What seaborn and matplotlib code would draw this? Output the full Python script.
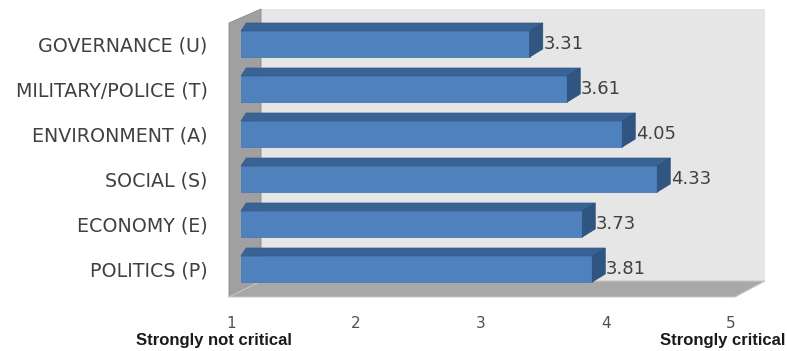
import matplotlib
matplotlib.use("Agg")
import matplotlib.pyplot as plt
import matplotlib.transforms as mtransforms
from matplotlib.patches import Polygon
import seaborn as sns
import pandas as pd

categories = ["GOVERNANCE (U)", "MILITARY/POLICE (T)", "ENVIRONMENT (A)",
              "SOCIAL (S)", "ECONOMY (E)", "POLITICS (P)"]
values = [3.31, 3.61, 4.05, 4.33, 3.73, 3.81]
tick_values = [1, 2, 3, 4, 5]
tick_labels = ["1", "2", "3", "4", "5"]
low_label = "Strongly not critical"
high_label = "Strongly critical"

sns.set_theme(style="white")
plt.rcParams["font.family"] = ["DejaVu Sans"]

W, H = 787, 351
fig = plt.figure(figsize=(W / 100, H / 100), dpi=100)
# x: value 1 at px 241, 125 px per unit; y: category pitch 45 px, first at px 44
X0PX, XSC, Y0PX, YSC = 241, 125.0, 44, 45.0
top_px, bot_px = 9, 297
ax = fig.add_axes([X0PX / W, (H - bot_px) / H, 4 * XSC / W, (bot_px - top_px) / H])

def px(xp, yp):
    return (1 + (xp - X0PX) / XSC, (yp - Y0PX) / YSC)

df = pd.DataFrame({"category": categories, "value": values})
sns.barplot(data=df, x="value", y="category", orient="h", color="#4f81bd",
            width=26 / YSC, saturation=1, ax=ax, zorder=3,
            edgecolor="#4a7ab3", linewidth=0.6)

ax.set_xlim(1, 5)
ax.set_ylim((bot_px - Y0PX) / YSC, (top_px - Y0PX) / YSC)

# 3D frame: back wall, left wall, floor
back = Polygon([px(261, 9), px(765, 9), px(765, 281), px(261, 281)],
               closed=True, facecolor="#e6e6e6", edgecolor="none", zorder=0,
               clip_on=False)
leftwall = Polygon([px(229, 23), px(261, 9), px(261, 281), px(229, 297)],
                   closed=True, facecolor="#a0a0a0", edgecolor="#8a8a8a",
                   linewidth=0.6, zorder=1, clip_on=False)
floor = Polygon([px(229, 297), px(261, 281), px(765, 281), px(735, 297)],
                closed=True, facecolor="#a8a8a8", edgecolor="#c8c8c8",
                linewidth=0.8, zorder=1, clip_on=False)
for p in (back, leftwall, floor):
    ax.add_patch(p)

# 3D faces of bars
ddx, ddy = 13 / XSC, 8 / YSC
bars = [p for p in ax.patches if p not in (back, leftwall, floor)]
for bar, v in zip(bars, values):
    x0 = 1.0
    x1 = bar.get_x() + bar.get_width()
    yt = bar.get_y()
    yb = yt + bar.get_height()
    ax.add_patch(Polygon([(x0, yt), (x0 + ddx * 0.4, yt - ddy), (x1 + ddx, yt - ddy), (x1, yt)],
                         closed=True, facecolor="#3a6395", edgecolor="#35598a",
                         linewidth=0.5, zorder=3, clip_on=False))
    ax.add_patch(Polygon([(x1, yt), (x1 + ddx, yt - ddy), (x1 + ddx, yb - ddy), (x1, yb)],
                         closed=True, facecolor="#2f5580", edgecolor="#2b4e78",
                         linewidth=0.5, zorder=3, clip_on=False))
    ax.text(x1 + ddx + 0.005, (yt + yb) / 2, f"{v:.2f}", ha="left", va="center",
            fontsize=13, color="#404040", zorder=4)

for s in ax.spines.values():
    s.set_visible(False)
ax.set_facecolor("none")
ax.set_xlabel("")
ax.set_ylabel("")
ax.set_xticks(tick_values)
ax.set_xticklabels(tick_labels)
ax.tick_params(axis="x", length=0, pad=14, labelsize=11, labelcolor="#505050")
ax.tick_params(axis="y", length=0, pad=24, labelsize=13.7, labelcolor="#404040")
offset = mtransforms.ScaledTranslation(-10 / 100, 0, fig.dpi_scale_trans)
for lab in ax.get_xticklabels():
    lab.set_transform(lab.get_transform() + offset)

fig.text(214 / W, 1 - 340 / H, low_label, ha="center", va="center",
         fontsize=12, fontweight="bold", color="#1a1a1a", family=["Liberation Sans"])
fig.text(723 / W, 1 - 340 / H, high_label, ha="center", va="center",
         fontsize=12, fontweight="bold", color="#1a1a1a", family=["Liberation Sans"])

fig.savefig("out.png", dpi=100)
